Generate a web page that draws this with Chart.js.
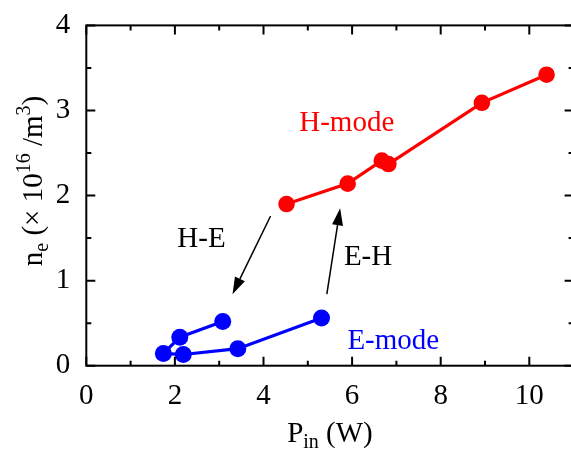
<!DOCTYPE html>
<html><head><meta charset="utf-8">
<script src="https://cdn.jsdelivr.net/npm/chart.js@4/dist/chart.umd.min.js"></script>
<style>html,body{margin:0;padding:0;background:#fff;overflow:hidden;font-family:'Liberation Serif';} #wrap{width:590px;height:452px;position:relative;}</style>
</head><body><div id="wrap"><canvas id="c"></canvas></div>
<script>
// Data (P_in in W, n_e in 1e16 /m^3)
const hModeP = [4.52, 5.90, 6.67, 6.82, 8.93, 10.39];
const hModeN = [1.90, 2.14, 2.41, 2.37, 3.09, 3.42];
const eModeP = [3.08, 2.11, 1.74, 2.19, 3.42, 5.31];
const eModeN = [0.52, 0.335, 0.143, 0.132, 0.20, 0.56];
const xTickLabels = [0, 2, 4, 6, 8, 10];
const yTickLabels = [0, 1, 2, 3, 4];
const xMinorTicks = [1, 3, 5, 7, 9];
const yMinorTicks = [0.5, 1.5, 2.5, 3.5];
const textLabels = [
  {text: 'H-mode', x: 5.88, y: 2.76, color: '#ff0000'},
  {text: 'H-E', x: 2.60, y: 1.40, color: '#000000'},
  {text: 'E-H', x: 6.36, y: 1.185, color: '#000000'},
  {text: 'E-mode', x: 6.93, y: 0.20, color: '#0000ff'}
];
const arrows = [
  {x0: 4.16, y0: 1.76, x1: 3.30, y1: 0.84},
  {x0: 5.43, y0: 0.84, x1: 5.73, y1: 1.85}
];

const FONT = 'Liberation Serif';
Chart.defaults.font.family = FONT;

function drawRich(ctx, parts, cx, baseY) {
  let total = 0;
  parts.forEach(p => { ctx.font = p[1] + 'px "' + FONT + '"'; p.w = ctx.measureText(p[0]).width; total += p.w; });
  let x = cx - total / 2;
  ctx.textAlign = 'left'; ctx.textBaseline = 'alphabetic';
  parts.forEach(p => { ctx.font = p[1] + 'px "' + FONT + '"'; ctx.fillText(p[0], x, baseY + p[2]); x += p.w; });
}

const deco = {
  id: 'deco',
  afterDatasetsDraw(chart) {
    const {ctx, chartArea: a, scales: {x, y}} = chart;
    ctx.save();
    ctx.strokeStyle = '#000'; ctx.lineWidth = 2; ctx.lineCap = 'butt';
    ctx.strokeRect(a.left, a.top, a.right - a.left, a.bottom - a.top);
    const xt = (v, len) => { const px = x.getPixelForValue(v); ctx.beginPath();
      ctx.moveTo(px, a.bottom); ctx.lineTo(px, a.bottom - len);
      ctx.moveTo(px, a.top); ctx.lineTo(px, a.top + len); ctx.stroke(); };
    const yt = (v, len) => { const py = y.getPixelForValue(v); ctx.beginPath();
      ctx.moveTo(a.left, py); ctx.lineTo(a.left + len, py);
      ctx.moveTo(a.right, py); ctx.lineTo(a.right - len, py); ctx.stroke(); };
    xTickLabels.forEach(v => xt(v, 9)); xMinorTicks.forEach(v => xt(v, 5));
    yTickLabels.forEach(v => yt(v, 9)); yMinorTicks.forEach(v => yt(v, 5));

    // arrows
    ctx.fillStyle = '#000'; ctx.lineWidth = 1.5;
    arrows.forEach(ar => {
      const p0 = [x.getPixelForValue(ar.x0), y.getPixelForValue(ar.y0)];
      const p1 = [x.getPixelForValue(ar.x1), y.getPixelForValue(ar.y1)];
      const ang = Math.atan2(p1[1] - p0[1], p1[0] - p0[0]);
      const L = 17, W = 5.5;
      const bx = p1[0] - L * Math.cos(ang), by = p1[1] - L * Math.sin(ang);
      ctx.beginPath(); ctx.moveTo(p0[0], p0[1]); ctx.lineTo(bx, by); ctx.stroke();
      ctx.beginPath(); ctx.moveTo(p1[0], p1[1]);
      ctx.lineTo(bx + W * Math.sin(ang), by - W * Math.cos(ang));
      ctx.lineTo(bx - W * Math.sin(ang), by + W * Math.cos(ang));
      ctx.closePath(); ctx.fill();
    });

    // text labels
    ctx.textAlign = 'center'; ctx.textBaseline = 'alphabetic';
    ctx.font = '29px "' + FONT + '"';
    textLabels.forEach(t => { ctx.fillStyle = t.color;
      ctx.fillText(t.text, x.getPixelForValue(t.x), y.getPixelForValue(t.y)); });

    // axis titles
    ctx.fillStyle = '#000';
    drawRich(ctx, [['P', 29, 0], ['in', 20, 6], [' (W)', 29, 0]], (a.left + a.right) / 2, 441.7);
    ctx.save();
    ctx.translate(42, 181); ctx.rotate(-Math.PI / 2);
    drawRich(ctx, [['n', 29, 0], ['e', 20, 6], [' (\u00d7 10', 29, 0], ['16', 20, -12], [' /m', 29, 0], ['3', 20, -12], [')', 29, 0]], 0, 0);
    ctx.restore();
    ctx.restore();
  }
};

const toPts = (xs, ys) => xs.map((v, i) => ({x: v, y: ys[i]}));

new Chart(document.getElementById('c'), {
  type: 'scatter',
  data: {
    datasets: [
      {label: 'H-mode', data: toPts(hModeP, hModeN), showLine: true, borderColor: '#ff0000', backgroundColor: '#ff0000',
       borderWidth: 3.2, pointRadius: 8.3, pointBorderWidth: 0},
      {label: 'E-mode', data: toPts(eModeP, eModeN), showLine: true, borderColor: '#0000ff', backgroundColor: '#0000ff',
       borderWidth: 3.2, pointRadius: 8.5, pointBorderWidth: 0}
    ]
  },
  options: {
    responsive: true, maintainAspectRatio: false, animation: false, devicePixelRatio: 1,
    layout: {padding: {left: 0, top: 20, right: 16.4, bottom: 0}},
    plugins: {legend: {display: false}, tooltip: {enabled: false}},
    scales: {
      x: {type: 'linear', min: 0, max: 11,
          afterBuildTicks: s => { s.ticks = xTickLabels.map(v => ({value: v})); },
          afterFit: s => { s.height = 86.3; },
          grid: {display: false}, border: {display: false},
          ticks: {color: '#000', font: {family: FONT, size: 29}, padding: 5, maxRotation: 0}},
      y: {type: 'linear', min: 0, max: 4,
          afterBuildTicks: s => { s.ticks = yTickLabels.map(v => ({value: v})); },
          afterFit: s => { s.width = 86.3; },
          grid: {display: false}, border: {display: false},
          ticks: {color: '#000', font: {family: FONT, size: 29}, padding: 8}}
    }
  },
  plugins: [deco]
});
</script></body></html>
